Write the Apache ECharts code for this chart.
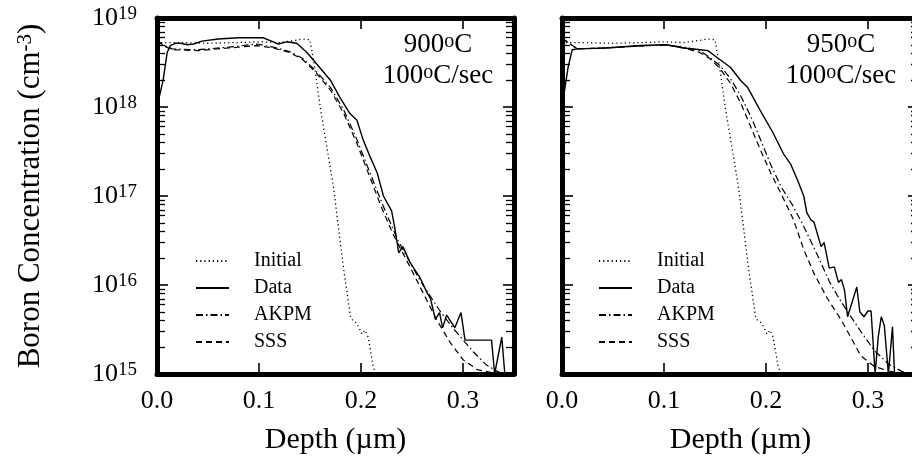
<!DOCTYPE html>
<html>
<head>
<meta charset="utf-8">
<script src="https://cdn.jsdelivr.net/npm/echarts@6/dist/echarts.min.js"></script>
<style>
  html, body { margin: 0; padding: 0; background: #fff; }
  #chart { width: 912px; height: 460px; }
</style>
</head>
<body>
<div id="chart"></div>
<script>
const FONT = 'Liberation Serif';

// axis ranges / ticks
const depthMin = 0, depthMax = 0.35, depthStep = 0.1;
const concMin = 1e15, concMax = 1e19;
const minorMantissas = [2, 3, 4, 5, 6, 7, 8, 9];
const legendNames = ['Initial', 'Data', 'AKPM', 'SSS'];
const panelTitles = [['900', '100'], ['950', '100']];

// as-implanted profile (same in both panels)
const initDepth = [0.000, 0.004, 0.020, 0.050, 0.080, 0.100, 0.120, 0.135, 0.143, 0.150, 0.155, 0.160, 0.167, 0.173, 0.177, 0.183, 0.190, 0.196, 0.201, 0.204, 0.207, 0.212, 0.215];
const initConc  = [5.5e18, 5.3e18, 5.3e18, 5.2e18, 5.3e18, 5.4e18, 5.3e18, 5.6e18, 5.8e18, 5.7e18, 2.6e18, 1.0e18, 3.3e17, 1.26e17, 5.4e16, 1.5e16, 4.2e15, 3.7e15, 2.8e15, 3.1e15, 2.6e15, 1.2e15, 1.0e15];

// 900 C
const data900Depth = [0.000, 0.006, 0.010, 0.013, 0.018, 0.023, 0.030, 0.036, 0.044, 0.060, 0.080, 0.104, 0.114, 0.119, 0.127, 0.137, 0.147, 0.157, 0.170, 0.179, 0.189, 0.196, 0.202, 0.209, 0.216, 0.222, 0.230, 0.233, 0.237, 0.241, 0.248, 0.258, 0.265, 0.268, 0.273, 0.277, 0.280, 0.284, 0.292, 0.298, 0.302, 0.328, 0.331, 0.338, 0.341, 0.345];
const data900Conc  = [1.0e18, 2.0e18, 4.1e18, 4.9e18, 5.2e18, 5.2e18, 5.0e18, 5.1e18, 5.5e18, 5.8e18, 6.0e18, 6.0e18, 5.4e18, 5.1e18, 5.4e18, 5.2e18, 4.1e18, 3.0e18, 2.0e18, 1.3e18, 8.5e17, 7.1e17, 4.3e17, 2.75e17, 1.8e17, 1.0e17, 6.8e16, 4.5e16, 2.3e16, 2.7e16, 1.8e16, 1.2e16, 8.1e15, 7.1e15, 4.1e15, 4.9e15, 3.3e15, 4.6e15, 3.3e15, 4.9e15, 2.4e15, 2.4e15, 1.0e15, 2.6e15, 1.0e15, 9.0e14];
const akpm900Depth = [0.000, 0.006, 0.015, 0.040, 0.070, 0.098, 0.114, 0.130, 0.143, 0.155, 0.170, 0.183, 0.196, 0.209, 0.222, 0.236, 0.258, 0.277, 0.290, 0.310, 0.323, 0.335, 0.350];
const akpm900Conc  = [5.6e18, 5.0e18, 4.5e18, 4.4e18, 4.7e18, 5.1e18, 4.7e18, 4.2e18, 3.5e18, 2.6e18, 1.66e18, 9.3e17, 4.3e17, 1.8e17, 7.6e16, 3.2e16, 1.12e16, 5.2e15, 3.3e15, 1.78e15, 1.26e15, 1.05e15, 9.5e14];
const sss900Depth  = [0.000, 0.006, 0.015, 0.040, 0.070, 0.098, 0.114, 0.130, 0.143, 0.155, 0.170, 0.183, 0.196, 0.209, 0.219, 0.231, 0.248, 0.261, 0.274, 0.287, 0.300, 0.314, 0.330, 0.350];
const sss900Conc   = [5.6e18, 4.9e18, 4.4e18, 4.3e18, 4.6e18, 4.9e18, 4.6e18, 4.1e18, 3.4e18, 2.5e18, 1.55e18, 8.5e17, 3.9e17, 1.6e17, 8.0e16, 3.8e16, 1.6e16, 8.1e15, 4.1e15, 2.3e15, 1.45e15, 1.12e15, 1.03e15, 1.0e15];

// 950 C
const data950Depth = [0.000, 0.006, 0.010, 0.015, 0.044, 0.077, 0.103, 0.119, 0.136, 0.143, 0.152, 0.165, 0.175, 0.182, 0.194, 0.207, 0.217, 0.224, 0.231, 0.237, 0.240, 0.244, 0.247, 0.254, 0.257, 0.262, 0.267, 0.271, 0.274, 0.277, 0.280, 0.289, 0.292, 0.296, 0.300, 0.303, 0.307, 0.310, 0.313, 0.316, 0.320, 0.324, 0.326, 0.335];
const data950Conc  = [1.0e18, 2.8e18, 4.4e18, 4.5e18, 4.6e18, 4.9e18, 5.0e18, 4.6e18, 4.4e18, 4.3e18, 3.6e18, 2.8e18, 2.0e18, 1.66e18, 9.3e17, 5.1e17, 3.0e17, 2.3e17, 1.5e17, 1.0e17, 6.5e16, 5.4e16, 5.1e16, 2.7e16, 3.0e16, 1.55e16, 1.6e16, 1.07e16, 1.15e16, 8.7e15, 4.4e15, 9.5e15, 5.0e15, 4.4e15, 5.1e15, 5.1e15, 1.0e15, 2.6e15, 4.4e15, 3.5e15, 1.0e15, 3.4e15, 1.0e15, 9.0e14];
const akpm950Depth = [0.000, 0.004, 0.015, 0.040, 0.070, 0.100, 0.120, 0.135, 0.145, 0.155, 0.165, 0.175, 0.185, 0.195, 0.205, 0.215, 0.226, 0.236, 0.251, 0.262, 0.270, 0.280, 0.293, 0.306, 0.320, 0.333, 0.350];
const akpm950Conc  = [5.9e18, 5.5e18, 4.5e18, 4.6e18, 4.8e18, 5.0e18, 4.7e18, 4.3e18, 3.6e18, 2.9e18, 2.1e18, 1.35e18, 7.9e17, 4.2e17, 2.2e17, 1.26e17, 7.9e16, 4.8e16, 2.1e16, 1.1e16, 7.6e15, 5.0e15, 3.0e15, 1.85e15, 1.3e15, 1.07e15, 9.5e14];
const sss950Depth  = [0.000, 0.004, 0.015, 0.040, 0.070, 0.100, 0.120, 0.135, 0.145, 0.155, 0.165, 0.175, 0.185, 0.195, 0.205, 0.215, 0.227, 0.237, 0.247, 0.260, 0.274, 0.293, 0.306, 0.320, 0.335, 0.350];
const sss950Conc   = [5.9e18, 5.5e18, 4.5e18, 4.6e18, 4.8e18, 5.0e18, 4.6e18, 4.1e18, 3.5e18, 2.7e18, 1.86e18, 1.12e18, 6.0e17, 3.2e17, 1.78e17, 1.05e17, 5.4e16, 2.5e16, 1.35e16, 7.1e15, 4.0e15, 1.6e15, 1.22e15, 1.08e15, 1.02e15, 1.0e15];

const lineStyles = {
    Initial: { color: '#000', width: 1.3, type: [1.2, 3] },
    Data:    { color: '#000', width: 1.4, type: 'solid' },
    AKPM:    { color: '#000', width: 1.2, type: [7, 3, 1.5, 3] },
    SSS:     { color: '#000', width: 1.2, type: [6, 4] }
};

function pairs(xs, ys) {
    return xs.map((x, i) => [x, ys[i]]);
}

// minor tick positions, in decades, for a linear overlay axis matching the log axis
const expMin = Math.log10(concMin), expMax = Math.log10(concMax);
let minorExp = [];
for (let e = expMin; e < expMax; e++) {
    minorMantissas.forEach(m => minorExp.push(e + Math.log10(m)));
}

const supRich = {
    b: { fontFamily: FONT, fontSize: 26, color: '#000', lineHeight: 26, verticalAlign: 'bottom' },
    s: { fontFamily: FONT, fontSize: 19, color: '#000', lineHeight: 14, verticalAlign: 'top' }
};

const frameLine = { onZero: false, lineStyle: { color: '#000', width: 5 } };
const majorTick = { inside: true, length: 11, lineStyle: { color: '#000', width: 1.6 } };

const panelLeft = [157, 562];
const grids = [];
const xAxes = [];
const yAxes = [];
const series = [];

panelLeft.forEach((left, p) => {
    const g = grids.length;
    grids.push({ left: left, top: 18, width: 357, height: 356, containLabel: false, outerBoundsMode: 'none' });
    grids.push({ left: left, top: 18, width: 357, height: 356, containLabel: false, outerBoundsMode: 'none' });

    const xi = xAxes.length;
    // bottom axis with labels
    xAxes.push({
        type: 'value', gridIndex: g, position: 'bottom',
        min: depthMin, max: depthMax, interval: depthStep,
        name: 'Depth (\u00b5m)', nameLocation: 'middle', nameGap: 51,
        nameTextStyle: { fontFamily: FONT, fontSize: 30, color: '#000' },
        axisLine: frameLine,
        axisTick: majorTick,
        axisLabel: { margin: 14, color: '#000', fontFamily: FONT, fontSize: 26, showMaxLabel: false,
                     formatter: v => v.toFixed(1) },
        splitLine: { show: false }
    });
    // top border axis
    xAxes.push({
        type: 'value', gridIndex: g, position: 'top',
        min: depthMin, max: depthMax, interval: depthStep,
        axisLine: frameLine,
        axisTick: majorTick,
        axisLabel: { show: false },
        splitLine: { show: false }
    });
    // overlay grid x axis (hidden)
    xAxes.push({ type: 'value', gridIndex: g + 1, min: depthMin, max: depthMax, show: false,
                 axisLine: { onZero: false } });

    const yi = yAxes.length;
    yAxes.push({
        type: 'log', logBase: 10, gridIndex: g, position: 'left',
        min: concMin, max: concMax,
        name: p === 0 ? '{a|Boron Concentration (cm}{s|-3}{a|)}' : '',
        nameLocation: 'middle', nameGap: 111,
        nameTextStyle: { rich: {
            a: { fontFamily: FONT, fontSize: 31, color: '#000', lineHeight: 31, verticalAlign: 'bottom' },
            s: { fontFamily: FONT, fontSize: 21, color: '#000', lineHeight: 17, verticalAlign: 'top' }
        } },
        axisLine: frameLine,
        axisTick: majorTick,
        axisLabel: {
            show: p === 0, margin: 20,
            formatter: v => '{b|10}{s|' + Math.round(Math.log10(v)) + '}',
            rich: supRich
        },
        splitLine: { show: false }
    });
    yAxes.push({
        type: 'log', logBase: 10, gridIndex: g, position: 'right',
        min: concMin, max: concMax,
        axisLine: frameLine,
        axisTick: majorTick,
        axisLabel: { show: false },
        splitLine: { show: false }
    });
    // minor ticks on the overlay grid
    ['left', 'right'].forEach(pos => {
        yAxes.push({
            type: 'value', gridIndex: g + 1, position: pos,
            min: expMin, max: expMax,
            axisLine: { show: false, onZero: false },
            axisTick: { inside: true, length: 8, customValues: minorExp,
                        lineStyle: { color: '#000', width: 1.3 } },
            axisLabel: { show: false },
            splitLine: { show: false }
        });
    });

    const sets = p === 0
        ? [[initDepth, initConc], [data900Depth, data900Conc], [akpm900Depth, akpm900Conc], [sss900Depth, sss900Conc]]
        : [[initDepth, initConc], [data950Depth, data950Conc], [akpm950Depth, akpm950Conc], [sss950Depth, sss950Conc]];
    sets.forEach((s, k) => {
        const name = legendNames[k];
        series.push({
            name: name, type: 'line', xAxisIndex: xi, yAxisIndex: yi,
            data: pairs(s[0], s[1]), symbol: 'none', silent: true, animation: false,
            lineStyle: lineStyles[name], itemStyle: { color: '#000' }, clip: true
        });
    });
});

const legends = [190, 593].map(left => ({
    orient: 'vertical', left: left, top: 246,
    itemWidth: 33, itemHeight: 14, itemGap: 7,
    selectedMode: false, data: legendNames,
    itemStyle: { opacity: 0 },
    textStyle: { fontFamily: FONT, fontSize: 20, color: '#000', lineHeight: 20, padding: [0, 0, 0, 20] }
}));

const annoRich = {
    a: { fontFamily: FONT, fontSize: 27, fill: '#000', color: '#000', lineHeight: 27, verticalAlign: 'bottom' },
    o: { fontFamily: FONT, fontSize: 20, fill: '#000', color: '#000', lineHeight: 16, verticalAlign: 'top' }
};
const annoCenters = [438, 841];
const graphics = [];
panelTitles.forEach((t, p) => {
    graphics.push({ type: 'text', x: annoCenters[p], y: 45, z: 10,
        style: { text: '{a|' + t[0] + '}{o|o}{a|C}', rich: annoRich, align: 'center', verticalAlign: 'middle' } });
    graphics.push({ type: 'text', x: annoCenters[p], y: 76, z: 10,
        style: { text: '{a|' + t[1] + '}{o|o}{a|C/sec}', rich: annoRich, align: 'center', verticalAlign: 'middle' } });
});

const chart = echarts.init(document.getElementById('chart'));
chart.setOption({
    backgroundColor: '#fff',
    animation: false,
    grid: grids,
    xAxis: xAxes,
    yAxis: yAxes,
    legend: legends,
    graphic: graphics,
    series: series
});
</script>
</body>
</html>
